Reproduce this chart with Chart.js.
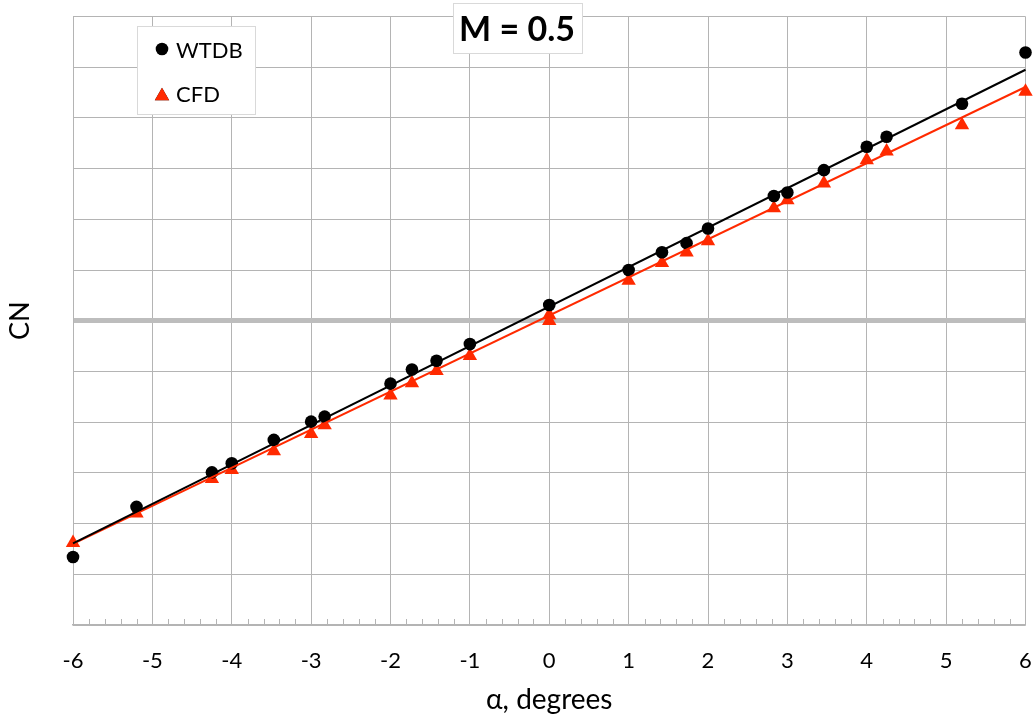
<!DOCTYPE html>
<html>
<head>
<meta charset="utf-8">
<script src="https://cdn.jsdelivr.net/npm/chart.js@4"></script>
<style>
  html, body { margin: 0; padding: 0; background: #fff; }
  #wrap { width: 1036px; height: 723px; }
</style>
</head>
<body>
<div id="wrap"><canvas id="cnChart" width="1036" height="723"></canvas></div>
<script>
// angle of attack values (degrees)
const wtdbAlpha = [-6, -5.2, -4.25, -4, -3.47, -3, -2.83, -2, -1.73, -1.42, -1, 0, 1, 1.42, 1.73, 2, 2.83, 3, 3.46, 4, 4.25, 5.2, 6];
const wtdbCN = [-4.66, -3.67, -2.99, -2.81, -2.35, -1.99, -1.89, -1.24, -0.96, -0.79, -0.46, 0.31, 1.0, 1.35, 1.53, 1.82, 2.46, 2.53, 2.97, 3.43, 3.63, 4.28, 5.29];

const cfdAlpha = [-6, -5.2, -4.25, -4, -3.47, -3, -2.83, -2, -1.73, -1.42, -1, 0, 0, 1, 1.42, 1.73, 2, 2.83, 3, 3.46, 4, 4.25, 5.2, 6];
const cfdCN = [-4.38, -3.80, -3.12, -2.94, -2.57, -2.23, -2.06, -1.47, -1.23, -0.99, -0.69, 0.11, 0.0, 0.79, 1.14, 1.35, 1.57, 2.22, 2.38, 2.71, 3.17, 3.34, 3.86, 4.52];

// linear trend lines, read at both ends of the axis
const fitAlpha = [-6, 6];
const wtdbFit = [-4.39, 4.95];
const cfdFit = [-4.40, 4.61];

const xTicks = [-6, -5, -4, -3, -2, -1, 0, 1, 2, 3, 4, 5, 6];
const chartTitle = 'M = 0.5';

const RED = '#ff2a00';
const GRID = '#b4b4b4';
const FONT = 'Lato, "Open Sans", sans-serif';

function toPoints(xs, ys) {
  return xs.map((x, i) => ({ x: x, y: ys[i] }));
}

// small inward minor ticks on the bottom axis every 0.2
const minorTicks = {
  id: 'minorTicks',
  beforeDatasetsDraw(chart) {
    const xs = chart.scales.x;
    const ctx = chart.ctx;
    const bottom = chart.chartArea.bottom;
    ctx.save();
    ctx.strokeStyle = GRID;
    ctx.lineWidth = 1;
    for (let i = 0; i <= 60; i++) {
      if (i % 5 === 0) continue;
      const v = xs.min + i * 0.2;
      const px = Math.round(xs.getPixelForValue(v)) + 0.5;
      ctx.beginPath();
      ctx.moveTo(px, bottom);
      ctx.lineTo(px, bottom - 6);
      ctx.stroke();
    }
    ctx.restore();
  }
};

// boxed title and boxed legend, drawn over the grid
const boxes = {
  id: 'boxes',
  afterDraw(chart) {
    const ctx = chart.ctx;
    ctx.save();

    // title box
    ctx.fillStyle = '#fff';
    ctx.strokeStyle = '#d9d9d9';
    ctx.lineWidth = 1;
    ctx.fillRect(453, 3, 129, 50);
    ctx.strokeRect(453.5, 3.5, 129, 50);
    ctx.fillStyle = '#000';
    ctx.font = 'bold 34px ' + FONT;
    ctx.textAlign = 'center';
    ctx.textBaseline = 'middle';
    ctx.fillText(chartTitle, 517, 30);

    // legend box
    ctx.fillStyle = '#fff';
    ctx.fillRect(137, 26, 118, 88);
    ctx.strokeRect(137.5, 26.5, 118, 88);

    const items = chart.data.datasets.filter(d => d.inLegend);
    items.forEach((d, i) => {
      const cy = 49 + i * 44;
      const tri = d.pointStyle === 'triangle';
      Chart.helpers.drawPoint(ctx, {
        pointStyle: d.pointStyle,
        radius: tri ? 8.3 : 6.3,
        borderWidth: 0
      }, 162, tri ? cy + 3 : cy);
      ctx.fillStyle = d.pointBackgroundColor;
      ctx.fill();
      ctx.fillStyle = '#000';
      ctx.font = '22px ' + FONT;
      ctx.textAlign = 'left';
      ctx.textBaseline = 'middle';
      ctx.fillText(d.label, 176, cy + 2);
    });
    ctx.restore();
  }
};

const ctx = document.getElementById('cnChart').getContext('2d');
const chart = new Chart(ctx, {
  type: 'scatter',
  data: {
    datasets: [
      {
        label: 'WTDB fit',
        data: toPoints(fitAlpha, wtdbFit),
        showLine: true,
        borderColor: '#000',
        borderWidth: 2,
        pointRadius: 0,
        clip: false
      },
      {
        label: 'CFD fit',
        data: toPoints(fitAlpha, cfdFit),
        showLine: true,
        borderColor: RED,
        borderWidth: 2,
        pointRadius: 0,
        clip: false
      },
      {
        label: 'WTDB',
        inLegend: true,
        data: toPoints(wtdbAlpha, wtdbCN),
        pointStyle: 'circle',
        pointRadius: 6.3,
        pointBorderWidth: 0,
        pointBackgroundColor: '#000',
        backgroundColor: '#000',
        clip: false
      },
      {
        label: 'CFD',
        inLegend: true,
        data: toPoints(cfdAlpha, cfdCN),
        pointStyle: 'triangle',
        pointRadius: 8.3,
        pointBorderWidth: 0,
        pointBackgroundColor: RED,
        backgroundColor: RED,
        clip: false
      }
    ]
  },
  options: {
    responsive: false,
    animation: false,
    layout: { padding: { top: 16.5, right: 10.5, left: 0, bottom: 0 } },
    plugins: {
      legend: { display: false },
      title: { display: false },
      tooltip: { enabled: false }
    },
    scales: {
      x: {
        type: 'linear',
        min: -6,
        max: 6,
        afterBuildTicks: (scale) => {
          scale.ticks = xTicks.map(v => ({ value: v }));
        },
        afterFit: (scale) => {
          scale.height = 98;
          scale.paddingLeft = 0;
          scale.paddingRight = 0;
        },
        grid: { color: GRID, lineWidth: 1, drawTicks: false },
        border: { color: GRID, width: 1.5 },
        ticks: {
          padding: 23,
          color: '#000',
          font: { family: FONT, size: 22 }
        },
        title: {
          display: true,
          text: 'α, degrees',
          color: '#000',
          font: { family: FONT, size: 28 },
          padding: { top: 0, bottom: 6 }
        }
      },
      y: {
        type: 'linear',
        min: -6,
        max: 6,
        ticks: { stepSize: 1, display: false },
        afterFit: (scale) => { scale.width = 73; },
        grid: {
          drawTicks: false,
          color: (c) => (c.tick && c.tick.value === 0 ? '#bdbdbd' : GRID),
          lineWidth: (c) => (c.tick && c.tick.value === 0 ? 5 : 1)
        },
        border: { color: GRID, width: 1 },
        title: {
          display: true,
          text: 'CN',
          color: '#000',
          font: { family: FONT, size: 27 },
          padding: { top: 4, bottom: 0 }
        }
      }
    }
  },
  plugins: [minorTicks, boxes]
});
</script>
</body>
</html>
